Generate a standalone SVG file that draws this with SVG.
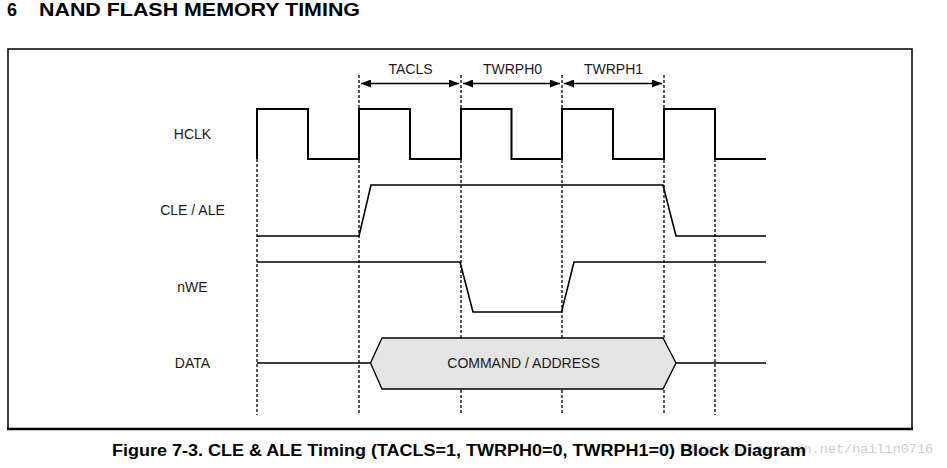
<svg xmlns="http://www.w3.org/2000/svg" width="947" height="468" viewBox="0 0 947 468">
<style>
.lbl{font-family:"Liberation Sans",Arial,sans-serif;font-size:14px;fill:#1a1a1a;text-anchor:middle}
.bold{font-family:"Liberation Sans",Arial,sans-serif;font-weight:bold;fill:#000}
.sig{fill:none;stroke:#000;stroke-width:1.6;stroke-linejoin:miter}
.clk{fill:none;stroke:#000;stroke-width:2;stroke-linejoin:miter}
.guide{fill:none;stroke:#000;stroke-width:1.3;stroke-dasharray:3,2}
.dim{fill:none;stroke:#000;stroke-width:1.4}
</style>
<defs>
<marker id="ah" viewBox="0 0 10 8" refX="10" refY="4" markerWidth="10" markerHeight="8" markerUnits="userSpaceOnUse" orient="auto-start-reverse">
<path d="M0,0 L10,4 L0,8 Z" fill="#000"/>
</marker>
</defs>
<rect width="947" height="468" fill="#fff"/>
<g id="title">
<text class="bold" x="7" y="16" font-size="18">6</text>
<text class="bold" x="39" y="16" font-size="18" textLength="321" lengthAdjust="spacingAndGlyphs">NAND FLASH MEMORY TIMING</text>
</g>
<g id="frame">
<rect x="8" y="49" width="904" height="380" fill="none" stroke="#000" stroke-width="1.5"/>
<line x1="7" y1="429" x2="913" y2="429" stroke="#000" stroke-width="2.5"/>
</g>
<g id="connectors">
<g id="guides">
<line class="guide" x1="257" y1="159" x2="257" y2="415"/>
<line class="guide" x1="359" y1="75" x2="359" y2="415"/>
<line class="guide" x1="461" y1="75" x2="461" y2="415"/>
<line class="guide" x1="562" y1="75" x2="562" y2="415"/>
<line class="guide" x1="664" y1="75" x2="664" y2="415"/>
<line class="guide" x1="715" y1="159" x2="715" y2="415"/>
</g>
<g id="dimensions">
<line class="dim" x1="361" y1="83.5" x2="459" y2="83.5" marker-start="url(#ah)" marker-end="url(#ah)"/>
<line class="dim" x1="463" y1="83.5" x2="560" y2="83.5" marker-start="url(#ah)" marker-end="url(#ah)"/>
<line class="dim" x1="564" y1="83.5" x2="662" y2="83.5" marker-start="url(#ah)" marker-end="url(#ah)"/>
</g>
</g>
<g id="dim-labels">
<text class="lbl" x="410.5" y="74">TACLS</text>
<text class="lbl" x="512.5" y="74">TWRPH0</text>
<text class="lbl" x="613.5" y="74">TWRPH1</text>
</g>
<g id="hclk">
<text class="lbl" x="192.5" y="139">HCLK</text>
<path class="clk" d="M257,159 V109 H308 V159 H359 V109 H410 V159 H461 V109 H511.5 V159 H562 V109 H613 V159 H664 V109 H715 V159 H766"/>
</g>
<g id="cle-ale">
<text class="lbl" x="192.5" y="215">CLE / ALE</text>
<path class="sig" d="M257,236 H359 L371,185 H663 L676,236 H766"/>
</g>
<g id="nwe">
<text class="lbl" x="192.5" y="292">nWE</text>
<path class="sig" d="M257,262 H460 L473,312 H561.5 L574,262 H766"/>
</g>
<g id="data">
<text class="lbl" x="192.5" y="368">DATA</text>
<path class="sig" d="M257,363 H370.5 M676,363 H766"/>
<polygon points="370.5,363 382,338 663,338 676,363 663,389 382,389" fill="#e4e4e4" stroke="#000" stroke-width="1.3"/>
<text class="lbl" x="523.5" y="368">COMMAND / ADDRESS</text>
</g>
<g id="watermark">
<text x="682" y="453" font-family="Liberation Mono,monospace" font-size="13.5" fill="#cfcfcf">http://blog.csdn.net/hailin0716</text>
</g>
<g id="caption">
<text class="bold" x="112" y="456" font-size="16" textLength="694" lengthAdjust="spacingAndGlyphs">Figure 7-3. CLE &amp; ALE Timing (TACLS=1, TWRPH0=0, TWRPH1=0) Block Diagram</text>
</g>
</svg>
